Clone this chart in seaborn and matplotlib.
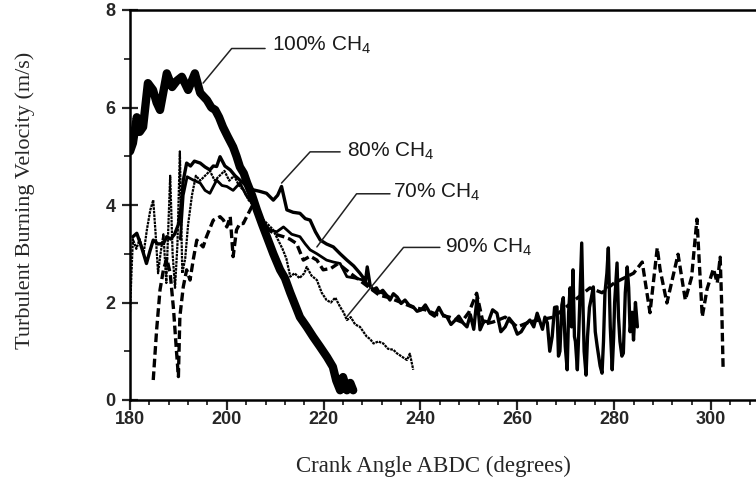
import matplotlib
matplotlib.use("Agg")
import matplotlib.pyplot as plt
import seaborn as sns
import pandas as pd
from matplotlib.ticker import MultipleLocator

# ---------------- data ----------------
x100 = [180.0, 180.6, 181.4, 182.0, 182.7, 183.7, 184.75, 185.5, 186.2, 187.6, 188.7, 189.7,
        190.7, 192.0, 193.4, 194.5, 195.9, 196.8, 197.6, 198.4, 199.2, 200.2, 201.3, 202.0,
        202.7, 203.5, 204.2, 205.2, 206.2, 207.3, 208.3, 209.6, 211.0, 212.0, 213.1, 214.1,
        215.1, 216.5, 217.8, 219.2, 220.7, 221.9, 222.6, 223.4, 224.0, 224.8, 225.5, 226.1]
y100 = [5.1, 5.27, 5.8, 5.5, 5.6, 6.5, 6.36, 6.1, 5.95, 6.7, 6.42, 6.55,
        6.63, 6.36, 6.7, 6.3, 6.15, 6.0, 5.95, 5.8, 5.6, 5.4, 5.19, 5.0,
        4.78, 4.65, 4.45, 4.2, 3.9, 3.6, 3.34, 3.0, 2.67, 2.5, 2.2, 1.95,
        1.7, 1.5, 1.3, 1.1, 0.88, 0.68, 0.4, 0.2, 0.47, 0.2, 0.35, 0.2]

x80 = [180.6, 181.4, 182.1, 182.8, 183.4, 184.1, 184.8, 185.8, 186.9, 187.6, 188.4, 189.2,
       190.0, 190.6, 191.0, 191.7, 192.5, 193.3, 194.5, 195.5, 196.5, 197.2, 197.9, 198.6,
       199.6, 200.7, 201.7, 202.7, 204.0, 205.5, 206.8, 208.2, 209.6, 210.5, 211.3, 212.4,
       213.7, 215.1, 216.2, 217.2, 218.3, 219.3, 220.6, 222.0, 223.4, 224.8, 226.2, 227.5,
       228.1, 228.6, 229.0, 229.6, 230.2, 230.9, 231.5, 232.2, 233.0, 233.7, 234.4, 235.2,
       236.0, 236.8, 237.6, 238.5, 239.3, 240.2, 241.0, 242.0, 242.9, 243.8, 244.6, 245.5,
       246.3, 247.0, 247.9, 248.8, 249.6, 250.3, 251.0, 251.7, 252.3, 253.1, 254.0, 254.9,
       255.8, 256.6, 257.5, 258.3, 259.1, 260.0, 260.8, 261.7, 262.6, 263.4, 264.1, 264.7,
       265.2, 265.7, 266.2, 266.7, 267.2, 267.7, 268.2, 268.5, 268.8, 269.2, 269.5, 269.9,
       270.3, 270.6, 270.9, 271.2, 271.5, 271.8, 272.0, 272.4, 272.7, 272.9, 273.3, 273.6,
       273.8, 274.2, 274.5, 274.9, 275.3, 275.7, 276.1, 276.5, 276.8, 277.1, 277.5, 277.8,
       278.1, 278.5, 278.8, 279.2, 279.6, 279.9, 280.1, 280.6, 280.9, 281.2, 281.6, 281.9,
       282.3, 282.7, 283.0, 283.3, 283.7, 284.0, 284.4, 284.8]
y80 = [3.35, 3.42, 3.22, 3.0, 2.8, 3.05, 3.28, 3.2, 3.21, 3.35, 3.3, 3.4,
       3.6, 4.0, 4.5, 4.86, 4.8, 4.9, 4.86, 4.78, 4.72, 4.8, 4.79, 4.99,
       4.8, 4.72, 4.6, 4.51, 4.4, 4.31, 4.28, 4.24, 4.1, 4.2, 4.38, 3.9,
       3.85, 3.83, 3.72, 3.69, 3.45, 3.28, 3.2, 3.14, 3.0, 2.87, 2.75, 2.6,
       2.52, 2.4, 2.73, 2.35, 2.26, 2.3, 2.2, 2.25, 2.15, 2.05, 2.18, 2.11,
       1.98, 2.05, 1.95, 1.91, 1.82, 1.85, 1.95, 1.78, 1.72, 1.9, 1.75, 1.7,
       1.55, 1.62, 1.72, 1.58, 1.5, 1.75, 1.45, 2.11, 1.44, 1.62, 1.6, 1.85,
       1.78, 1.4, 1.5, 1.68, 1.58, 1.35, 1.4, 1.55, 1.64, 1.5, 1.78, 1.6,
       1.45, 1.7, 1.58, 1.0, 1.3, 1.9, 1.91, 0.9, 1.0, 1.95, 2.1, 1.1,
       0.62, 1.8, 2.3, 1.5, 2.67, 1.3, 1.2, 0.62, 1.4, 2.0, 3.22, 1.8,
       1.0, 0.51, 1.3, 1.9, 2.1, 2.32, 1.4, 1.1, 0.9, 0.7, 0.55, 1.2,
       2.2, 2.6, 3.12, 1.5, 0.62, 1.3, 2.0, 2.81, 1.7, 1.2, 0.9, 0.96,
       2.2, 2.73, 2.3, 1.4, 1.8, 1.23, 2.0, 1.5]

x70 = [190.4, 191.0, 191.8, 193.1, 194.5, 195.5, 196.5, 197.9, 199.0, 200.0, 201.3, 202.7,
       204.0, 205.5, 207.0, 208.9, 210.3, 211.7, 213.4, 215.1, 216.2, 217.2, 218.6, 220.6,
       222.0, 223.4, 224.8, 226.5, 228.2, 230.3, 232.0, 233.5]
y70 = [3.3, 4.2, 4.58, 4.51, 4.45, 4.3, 4.24, 4.51, 4.4, 4.38, 4.3, 4.45,
       4.2, 4.0, 3.7, 3.49, 3.45, 3.55, 3.4, 3.35, 3.2, 3.08, 3.0, 2.87,
       2.83, 2.8, 2.53, 2.5, 2.46, 2.26, 2.2, 2.12]

x90 = [180.0, 180.3, 180.6, 181.3, 182.0, 182.8, 183.5, 184.2, 184.8, 185.3, 185.8, 186.3,
       186.9, 187.5, 188.3, 188.8, 189.3, 189.8, 190.3, 190.8, 191.4, 192.0, 192.8, 193.6,
       194.5, 195.5, 196.5, 197.5, 198.5, 199.5, 200.5, 201.5, 202.5, 203.5, 204.5, 205.5,
       206.5, 207.5, 208.5, 209.5, 210.5, 211.5, 212.3, 213.1, 214.0, 215.0, 216.0, 216.5,
       217.5, 218.6, 219.6, 220.6, 221.5, 222.4, 223.4, 224.1, 224.8, 225.6, 226.5, 227.5,
       228.2, 228.9, 229.6, 230.3, 231.3, 232.3, 233.3, 234.4, 235.1, 236.0, 237.2, 237.8,
       238.5]
y90 = [1.8, 2.6, 3.3, 3.1, 3.3, 3.0, 3.5, 3.9, 4.1, 3.4, 2.6, 3.0,
       3.4, 2.4, 4.6, 3.0, 2.3, 3.2, 5.1, 2.6, 2.9, 3.6, 4.2, 4.6,
       4.5, 4.6, 4.7, 4.5, 4.6, 4.7, 4.5, 4.6, 4.4, 4.3, 4.1, 4.0,
       3.8, 3.7, 3.6, 3.5, 3.3, 3.1, 2.9, 2.53, 2.6, 2.5, 2.6, 2.73,
       2.55, 2.46, 2.2, 2.05, 2.0, 2.1, 1.91, 1.8, 1.64, 1.7, 1.55, 1.5,
       1.4, 1.3, 1.25, 1.16, 1.2, 1.16, 1.05, 1.03, 0.96, 0.9, 0.82, 0.95,
       0.62]

x_dash = [184.8, 185.5, 186.2, 186.9, 187.6, 188.3, 189.0, 189.6, 190.0, 190.3, 191.0, 191.7,
          192.4, 193.1, 193.8, 195.1, 195.8, 197.2, 198.6, 199.3, 200.0, 200.7, 201.3, 202.0,
          202.7, 203.4, 204.1, 205.5, 207.0, 208.5, 210.0, 211.7, 213.0, 214.4, 215.8, 217.2,
          218.6, 219.9, 221.5, 223.0, 225.5, 227.5, 229.5, 231.5, 233.5, 236.0, 238.5, 241.0,
          243.5, 246.0, 248.5, 250.0, 251.6, 253.0, 255.0, 257.5, 260.0, 262.5, 265.0, 267.5,
          270.0, 272.5, 275.0, 277.5, 280.0, 282.0, 284.0, 285.8, 287.4, 288.9, 289.5, 290.9,
          292.6, 293.2, 294.7, 296.0, 297.1, 298.2, 299.2, 300.5, 301.3, 301.9, 302.2, 302.5]
y_dash = [0.41, 1.44, 2.26, 2.67, 2.9, 2.6, 1.85, 1.0, 0.48, 1.71, 2.32, 2.67,
          2.46, 2.9, 3.28, 3.14, 3.35, 3.69, 3.76, 3.69, 3.55, 3.76, 2.94, 3.49,
          3.62, 3.62, 3.76, 4.03, 3.7, 3.5, 3.4, 3.35, 3.3, 3.21, 2.87, 2.95,
          2.87, 2.67, 2.7, 2.8, 2.6, 2.45, 2.3, 2.15, 2.1, 2.0, 1.9, 1.85,
          1.75, 1.7, 1.6, 1.8, 2.19, 1.55, 1.6, 1.7, 1.5, 1.6, 1.65, 1.7,
          1.9, 2.1, 2.3, 2.2, 2.4, 2.5, 2.6, 2.83, 1.79, 3.12, 2.67, 1.99,
          2.73, 2.99, 2.05, 2.52, 3.71, 1.71, 2.28, 2.69, 2.4, 2.93, 2.0, 0.68]

labels = ["100% CH$_4$", "80% CH$_4$", "70% CH$_4$", "90% CH$_4$"]
x_ticks = [180, 200, 220, 240, 260, 280, 300]
y_ticks = [0, 2, 4, 6, 8]

# annotation geometry (leader polyline + text anchor), data coordinates
leaders = [
    ([195.1, 201.0, 207.9], [6.50, 7.21, 7.21], (209.3, 7.27)),
    ([211.3, 217.2, 223.4], [4.45, 5.09, 5.09], (224.8, 5.10)),
    ([218.6, 226.8, 233.7], [3.14, 4.23, 4.23], (234.4, 4.25)),
    ([224.8, 236.5, 244.0], [1.71, 3.13, 3.13], (245.1, 3.14)),
]

# ---------------- style ----------------
sns.set_style("ticks")
plt.rcParams["font.family"] = ["Liberation Sans", "DejaVu Sans"]
plt.rcParams["mathtext.fontset"] = "custom"
plt.rcParams["mathtext.rm"] = "Liberation Sans"
plt.rcParams["mathtext.default"] = "regular"

fig = plt.figure(figsize=(7.56, 4.88), dpi=100)
ax = fig.add_axes([130 / 756, 88 / 488, 626 / 756, 390 / 488])


def draw(x, y, **kw):
    df = pd.DataFrame({"x": x, "y": y})
    sns.lineplot(data=df, x="x", y="y", ax=ax, estimator=None, sort=False,
                 color="black", **kw)


draw(x_dash, y_dash, lw=2.4, linestyle=(0, (2.6, 1.2)))
draw(x90, y90, lw=1.6, linestyle=(0, (1.2, 0.4)))
draw(x70, y70, lw=2.0)
draw(x80, y80, lw=2.4)
draw(x100, y100, lw=6.0, solid_joinstyle="round")

for (lx, ly, (tx, ty)), lab in zip(leaders, labels):
    ax.plot(lx, ly, color="#222222", lw=1.1)
    ax.text(tx, ty, lab, fontsize=15, ha="left", va="center", color="#1a1a1a",
            family="Liberation Sans")

ax.set_xlim(180, 309.3)
ax.set_ylim(0, 8)
ax.set_xticks(x_ticks)
ax.set_yticks(y_ticks)
ax.xaxis.set_minor_locator(MultipleLocator(4))
ax.yaxis.set_minor_locator(MultipleLocator(1))

ax.spines["right"].set_visible(False)
for s in ["left", "top", "bottom"]:
    ax.spines[s].set_linewidth(1.8)
    ax.spines[s].set_color("black")

ax.tick_params(axis="x", which="major", direction="out", length=7, width=1.6,
               pad=1, labelsize=13)
ax.tick_params(axis="x", which="minor", direction="out", length=3.5, width=1.3)
ax.tick_params(axis="y", which="major", direction="inout", length=11, width=1.6,
               pad=5, labelsize=13)
ax.tick_params(axis="y", which="minor", direction="out", length=4, width=1.3)
ax.tick_params(top=False, right=False, which="both")
for t in ax.get_xticklabels() + ax.get_yticklabels():
    t.set_fontweight("bold")

ax.set_xlabel("Crank Angle ABDC (degrees)", family="Liberation Serif", fontsize=16.5)
ax.set_ylabel("Turbulent Burning Velocity (m/s)", family="Liberation Serif", fontsize=16)
ax.xaxis.set_label_coords(0.484, -0.17)
ax.yaxis.set_label_coords(-0.168, 0.513)
ax.xaxis.label.set_va("center")
ax.yaxis.label.set_va("center")

fig.savefig("out.png", dpi=100)
